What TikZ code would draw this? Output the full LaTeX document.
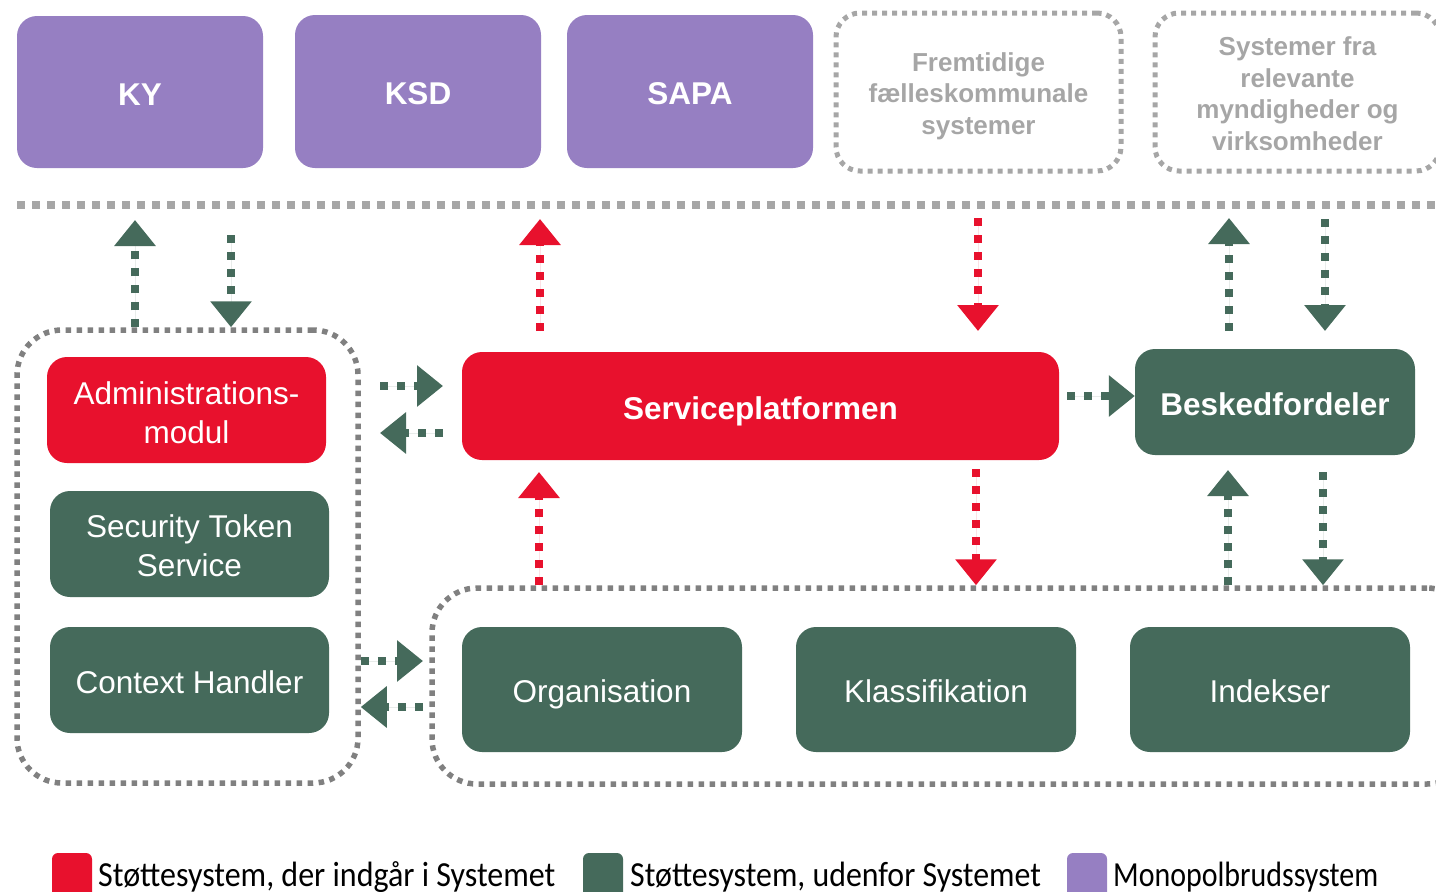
\documentclass[tikz,border=0pt]{standalone}
\usepackage{fontspec}
\setmainfont{Liberation Sans}
\newfontfamily\legendfont{Carlito}
\usetikzlibrary{arrows.meta}
\definecolor{cred}{RGB}{232,17,45}
\definecolor{cgreen}{RGB}{69,106,91}
\definecolor{cpurple}{RGB}{150,127,194}
\definecolor{cgray}{RGB}{128,128,128}
\definecolor{clight}{RGB}{166,166,166}
\begin{document}
\begin{tikzpicture}[x=1pt,y=-1pt,
  box/.style={rounded corners=20pt, text=white, align=center, inner sep=0pt},
  oneline/.style={text height=26.8pt, text depth=0pt},
  pbox/.style={box, oneline, fill=cpurple, font=\fontsize{31.5}{39}\bfseries\selectfont},
  rbox/.style={box, fill=cred},
  gbox/.style={box, fill=cgreen},
  regtext/.style={font=\fontsize{31.5}{39}\selectfont},
  boldtext/.style={font=\fontsize{31.5}{39}\bfseries\selectfont},
  futurebox/.style={rounded corners=24pt, draw=clight, line width=5pt, dash pattern=on 5pt off 5pt, text=clight, align=center, inner sep=0pt, font=\fontsize{26}{31.5}\bfseries\selectfont},
  groupbox/.style={rounded corners=45pt, draw=cgray, line width=5.5pt, dash pattern=on 5.5pt off 5.5pt, inner sep=0pt},
  conn/.style={line width=8pt, dash pattern=on 8pt off 9pt, -{Triangle[width=40pt,length=26pt]}},
  garrow/.style={conn, draw=cgreen, fill=cgreen},
  rarrow/.style={conn, draw=cred, fill=cred},
  legsq/.style={rounded corners=6pt, inner sep=0pt, minimum width=40pt, minimum height=50pt},
  legtext/.style={anchor=base west, inner sep=0pt, font=\legendfont\fontsize{32}{38}\selectfont}
]
\useasboundingbox (0,0) rectangle (1436,892);
\clip (0,0) rectangle (1436,892);

% top row
\node[pbox, minimum width=246pt, minimum height=152pt] (ky) at (140,92) {KY};
\node[pbox, minimum width=246pt, minimum height=153pt] (ksd) at (418,91.5) {KSD};
\node[pbox, minimum width=246pt, minimum height=153pt] (sapa) at (690,91.5) {SAPA};
\node[futurebox, minimum width=285pt, minimum height=158pt] (frem) at (978.5,92) {\rule{0pt}{27pt}Fremtidige\\fælleskommunale\\systemer};
\node[futurebox, minimum width=285pt, minimum height=158pt] (sysfra) at (1297.5,92) {\rule{0pt}{22pt}Systemer fra\\relevante\\myndigheder og\\virksomheder};

% separator
\coordinate (sepL) at (17,205);
\coordinate (sepR) at (1440,205);
\draw[clight, line width=8pt, dash pattern=on 8pt off 7pt] (sepL) -- (sepR);

% groups
\node[groupbox, minimum width=341pt, minimum height=453pt] (leftgrp) at (187.5,556.5) {};
\node[groupbox, minimum width=1040pt, minimum height=196pt] (botgrp) at (952,686) {};

% left column
\node[rbox, regtext, minimum width=279pt, minimum height=106pt] (admin) at (186.5,410) {\rule{0pt}{29pt}Administrations-\\modul};
\node[gbox, regtext, minimum width=279pt, minimum height=106pt] (sts) at (189.5,544) {\rule{0pt}{27pt}Security Token\\Service};
\node[gbox, regtext, oneline, minimum width=279pt, minimum height=106pt] (ch) at (189.5,680) {Context Handler};

% middle
\node[rbox, boldtext, oneline, minimum width=597pt, minimum height=108pt] (sp) at (760.5,406) {Serviceplatformen};
\node[gbox, boldtext, oneline, minimum width=280pt, minimum height=106pt] (besk) at (1275,402) {Beskedfordeler};

% bottom row
\node[gbox, regtext, oneline, minimum width=280pt, minimum height=125pt] (org) at (602,689.5) {Organisation};
\node[gbox, regtext, oneline, minimum width=280pt, minimum height=125pt] (kla) at (936,689.5) {Klassifikation};
\node[gbox, regtext, oneline, minimum width=280pt, minimum height=125pt] (idx) at (1270,689.5) {Indekser};

% arrows to/from separator
\coordinate (a1t) at (135,220);
\draw[garrow] (leftgrp.north -| a1t) -- (a1t);
\coordinate (a2s) at (231,235);
\draw[garrow] (a2s) -- (a2s |- leftgrp.north);
\coordinate (a3s) at (540,331);
\coordinate (a3t) at (540,219);
\draw[rarrow] (a3s) -- (a3t);
\coordinate (a4s) at (978,218);
\coordinate (a4t) at (978,331);
\draw[rarrow] (a4s) -- (a4t);
\coordinate (a5s) at (1229,331);
\coordinate (a5t) at (1229,218);
\draw[garrow] (a5s) -- (a5t);
\coordinate (a6s) at (1325,219);
\coordinate (a6t) at (1325,331);
\draw[garrow] (a6s) -- (a6t);

% horizontal arrows
\coordinate (h1s) at (380,386);
\coordinate (h1t) at (443,386);
\draw[garrow] (h1s) -- (h1t);
\coordinate (h2s) at (443,433);
\coordinate (h2t) at (380,433);
\draw[garrow] (h2s) -- (h2t);
\coordinate (h3s) at (1067,396);
\draw[garrow] (h3s) -- (h3s -| besk.west);
\coordinate (h4t) at (423,661);
\draw[garrow] (h4t -| leftgrp.east) -- (h4t);
\coordinate (h5s) at (423,707);
\draw[garrow] (h5s) -- (h5s -| leftgrp.east);

% arrows between middle and bottom group
\coordinate (b1t) at (539,472);
\draw[rarrow] (botgrp.north -| b1t) -- (b1t);
\coordinate (b2s) at (976,469);
\draw[rarrow] (b2s) -- (b2s |- botgrp.north);
\coordinate (b3t) at (1228,470);
\draw[garrow] (botgrp.north -| b3t) -- (b3t);
\coordinate (b4s) at (1323,472);
\draw[garrow] (b4s) -- (b4s |- botgrp.north);

% legend
\node[legsq, fill=cred] (lr) at (72,878) {};
\node[legtext] (lrt) at (98,886) {\scalebox{1}[1.1]{Støttesystem, der indgår i Systemet}};
\node[legsq, fill=cgreen] (lg) at (603,878) {};
\node[legtext] (lgt) at (630,886) {\scalebox{0.995}[1.1]{Støttesystem, udenfor Systemet}};
\node[legsq, fill=cpurple] (lp) at (1087,878) {};
\node[legtext] (lpt) at (1113,886) {\scalebox{0.936}[1.1]{Monopolbrudssystem}};
\end{tikzpicture}
\end{document}
